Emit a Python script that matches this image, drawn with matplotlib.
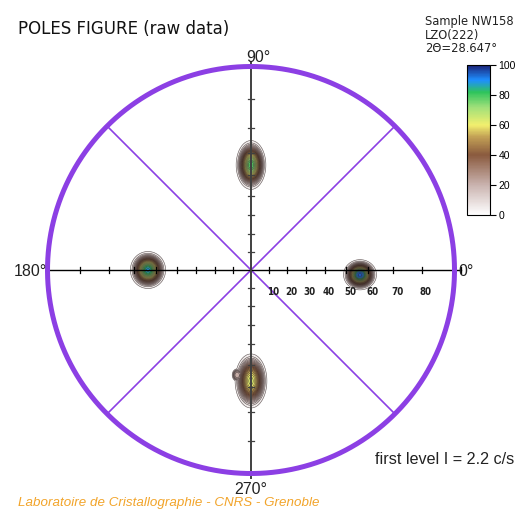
import numpy as np
import matplotlib
matplotlib.use('Agg')
import matplotlib.pyplot as plt
from matplotlib.colors import LinearSegmentedColormap, Normalize
from matplotlib.cm import ScalarMappable

# poles: azimuth phi (deg), tilt psi (deg), peak and plateau intensity (c/s),
# extent of first contour along x / y (plot units, R = 1)
pole_phi = [-2.5, 90.0, 180.0, 270.0, 262.5]
pole_psi = [56.4, 54.6, 53.7, 57.2, 55.0]
pole_peak = [96.0, 80.0, 88.0, 64.0, 22.0]
pole_base = [32.0, 32.0, 32.0, 30.0, 20.0]
pole_hx = [0.074, 0.068, 0.080, 0.074, 0.024]
pole_hy = [0.068, 0.112, 0.084, 0.126, 0.030]

first_level = 2.2
cbar_ticks = [0, 20, 40, 60, 80, 100]
psi_ticks = [10, 20, 30, 40, 50, 60, 70, 80]

PX = 203.5          # pixels per plot unit (circle radius)
CX, CY = 251, 270   # circle centre in pixels
W, H = 523, 512

cmap = LinearSegmentedColormap.from_list('pf', [
    (0.00, '#ffffff'), (0.20, '#c9b2ae'), (0.40, '#8a5a3e'),
    (0.52, '#c2a055'), (0.60, '#f2ef6e'), (0.72, '#9fe07a'),
    (0.82, '#2fc45c'), (0.90, '#1e8fff'), (1.00, '#1b2378')])

fig = plt.figure(figsize=(W / 100, H / 100), dpi=100)
ax = fig.add_axes([0, 0, 1, 1])
ax.set_xlim(-CX / PX, (W - CX) / PX)
ax.set_ylim((CY - H) / PX, CY / PX)
ax.set_aspect('equal')
ax.axis('off')

# intensity field built from the pole table: flat plateau + central core
g = np.linspace(-1.0, 1.0, 800)
X, Y = np.meshgrid(g, g)
Z = np.zeros_like(X)
for phi, psi, pk, bs, hx, hy in zip(pole_phi, pole_psi, pole_peak, pole_base,
                                    pole_hx, pole_hy):
    r = np.tan(np.radians(psi) / 2)
    x0, y0 = r * np.cos(np.radians(phi)), r * np.sin(np.radians(phi))
    q = ((X - x0) / hx) ** 2 + ((Y - y0) / hy) ** 2
    plateau = bs * np.exp(-np.log(bs / first_level) * q ** 2.2)
    core = (pk - bs) * np.exp(-q / (2 * 0.40 ** 2))
    Z = np.maximum(Z, plateau + core)

norm = Normalize(0, 100)
fill_lv = np.linspace(first_level, 101, 60)
ax.contourf(X, Y, Z, levels=fill_lv, cmap=cmap, norm=norm, zorder=1)
ax.contour(X, Y, Z, levels=np.arange(first_level, 101, 3.5), colors='#2e2424',
           linewidths=0.45, alpha=0.7, zorder=2)

purple = '#8c3fe4'
t = np.linspace(0, 2 * np.pi, 400)
ax.plot(np.cos(t), np.sin(t), color=purple, lw=3.6, zorder=5)
d = np.cos(np.radians(45))
ax.plot([-d, d], [-d, d], color=purple, lw=1.2, zorder=3)
ax.plot([-d, d], [d, -d], color=purple, lw=1.2, zorder=3)

ax.plot([-1.0, 1.03], [0, 0], color='black', lw=1.0, zorder=4)
ax.plot([0, 0], [-1.02, 1.02], color='#404040', lw=1.4, zorder=4)
tk = 3.0 / PX
for p in psi_ticks:
    r = np.tan(np.radians(p) / 2)
    for s in (-1, 1):
        ax.plot([s * r, s * r], [-tk, tk], color='black', lw=0.9, zorder=4)
        ax.plot([-tk, tk], [s * r, s * r], color='#404040', lw=0.9, zorder=4)
    ax.text(r + 4 / PX, -22 / PX, str(p), ha='center', va='center',
            fontsize=7, fontweight='bold', fontstretch='condensed', color='#202020')
ax.plot([1.03, 1.03], [-tk, tk], color='black', lw=0.9, zorder=4)


def ftext(px, py, s, **kw):
    fig.text(px / W, 1 - py / H, s, **kw)


arial = 'Liberation Sans'
ftext(18, 29, 'POLES FIGURE (raw data)', fontsize=12, va='center', color='#111111')
ftext(425, 22, 'Sample NW158', fontsize=8.3, va='center', color='#222222')
ftext(425, 35, 'LZO(222)', fontsize=8.3, va='center', color='#222222')
ftext(425, 48, '2\u0398=28.647\u00b0', fontsize=8.3, va='center', color='#222222')
ftext(258, 57, '90\u00b0', fontsize=11.5, family=arial, ha='center', va='center', color='#222222')
ftext(30, 271, '180\u00b0', fontsize=11.5, family=arial, ha='center', va='center', color='#222222')
ftext(458, 271, '0\u00b0', fontsize=11.5, family=arial, ha='left', va='center', color='#222222')
ftext(251, 489, '270\u00b0', fontsize=11.5, family=arial, ha='center', va='center', color='#222222')
ftext(514, 460, 'first level I = 2.2 c/s', fontsize=11.6, family=arial, ha='right',
      va='center', color='#222222')
ftext(18, 503, 'Laboratoire de Cristallographie - CNRS - Grenoble', fontsize=9.6,
      family=arial, style='italic', va='center', color='#f2a42a')

cax = fig.add_axes([467 / W, 1 - 215 / H, 23 / W, 150 / H])
cb = fig.colorbar(ScalarMappable(norm=norm, cmap=cmap), cax=cax, ticks=cbar_ticks)
cb.ax.tick_params(labelsize=7.5, length=4, width=0.8, pad=2)
cb.outline.set_linewidth(0.8)
for lab in cb.ax.get_yticklabels():
    lab.set_family(arial)

fig.savefig('out.png', dpi=100)
